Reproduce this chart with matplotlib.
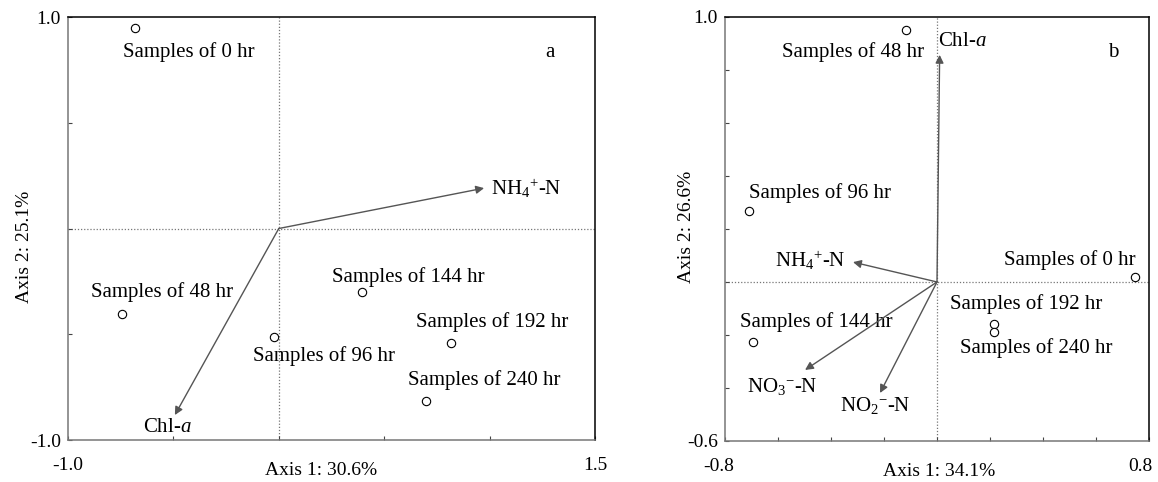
import matplotlib
matplotlib.use("Agg")
import matplotlib.pyplot as plt
from matplotlib.transforms import ScaledTranslation

plt.rcParams['font.family'] = ['Liberation Serif', 'DejaVu Serif']
plt.rcParams['mathtext.fontset'] = 'custom'
plt.rcParams['mathtext.rm'] = 'Liberation Serif'
plt.rcParams['mathtext.it'] = 'Liberation Serif:italic'
plt.rcParams['axes.unicode_minus'] = False

# panel a: sample scores and variable vectors
samples = ['Samples of 0 hr', 'Samples of 48 hr', 'Samples of 96 hr',
           'Samples of 144 hr', 'Samples of 192 hr', 'Samples of 240 hr']
a_x = [-0.683, -0.744, -0.025, 0.397, 0.818, 0.70]
a_y = [0.948, -0.404, -0.513, -0.300, -0.541, -0.816]
a_vars = ['NH$_4$$^{+}$-N', 'Chl-$a$']
a_vx = [0.974, -0.493]
a_vy = [0.191, -0.882]

# panel b
b_x = [0.747, -0.117, -0.709, -0.694, 0.215, 0.215]
b_y = [0.019, 0.951, 0.268, -0.226, -0.160, -0.188]
b_vars = ['Chl-$a$', 'NH$_4$$^{+}$-N', 'NO$_3$$^{\u2212}$-N', 'NO$_2$$^{\u2212}$-N']
b_vx = [0.01, -0.317, -0.498, -0.215]
b_vy = [0.857, 0.075, -0.332, -0.419]

# label offsets in pixels (dx, dy)
a_off = [(54, -24), (40, 22), (50, -19), (46, 15), (41, 21), (58, 21)]
b_off = [(-65, 17), (-53, -22), (71, 18), (63, 20), (32, 20), (42, -16)]
a_voff = [(7, 0, 'left'), (-7, -12, 'center')]
b_voff = [(-2, 13, 'left'), (-7, 2, 'right'), (-23, -17, 'center'), (-5, -12, 'center')]

fig = plt.figure(figsize=(11.58, 4.82), dpi=100)
ax1 = fig.add_axes([0.0587, 0.0871, 0.4551, 0.8776])
ax2 = fig.add_axes([0.6261, 0.0851, 0.3661, 0.8797])

def draw(ax, xs, ys, off, vx, vy, vnames, voff, xlim, ylim, xt, yt, xlab, ylab, letter):
    ax.set_xlim(*xlim)
    ax.set_ylim(*ylim)
    ax.axhline(0, color='#777777', ls=(0, (1, 1.5)), lw=0.9, zorder=1)
    ax.axvline(0, color='#777777', ls=(0, (1, 1.5)), lw=0.9, zorder=1)
    ax.plot(xs, ys, 'o', mfc='white', mec='black', ms=6, mew=0.8, zorder=3)
    for x, y, name, (dx, dy) in zip(xs, ys, samples, off):
        ax.annotate(name, (x, y), xytext=(dx, dy), textcoords='offset pixels',
                    ha='center', va='center', fontsize=15)
    for x, y, name, (dx, dy, ha) in zip(vx, vy, vnames, voff):
        ax.annotate('', xy=(x, y), xytext=(0, 0),
                    arrowprops=dict(arrowstyle='-|>', color='#555555', lw=1.0,
                                    mutation_scale=12, shrinkA=0, shrinkB=0))
        ax.annotate(name, (x, y), xytext=(dx, dy), textcoords='offset pixels',
                    ha=ha, va='center', fontsize=15)
    ax.set_xticks(xt)
    ax.set_yticks(yt)
    ax.set_xticklabels([f'{xt[0]:.1f}'] + [''] * (len(xt) - 2) + [f'{xt[-1]:.1f}'])
    ax.set_yticklabels([f'{yt[0]:.1f}'] + [''] * (len(yt) - 2) + [f'{yt[-1]:.1f}'])
    ax.tick_params(direction='in', length=3, color='#444444', labelsize=14)
    ax.tick_params(axis='x', pad=12)
    ax.tick_params(axis='y', pad=5)
    for s in ['left', 'bottom']:
        ax.spines[s].set_color('#777777')
    for s in ['top', 'right']:
        ax.spines[s].set_color('black')
    for s in ax.spines.values():
        s.set_linewidth(1.1)
    ax.set_xlabel(xlab, fontsize=14, va='center', ha='center')
    ax.set_ylabel(ylab, fontsize=14, va='center', ha='center')
    ax.text(0.915, 0.917, letter, transform=ax.transAxes, fontsize=15,
            ha='center', va='center')

draw(ax1, a_x, a_y, a_off, a_vx, a_vy, a_vars, a_voff, (-1.0, 1.5), (-1.0, 1.0),
     [-1.0, -0.5, 0.0, 0.5, 1.0, 1.5], [-1.0, -0.5, 0.0, 0.5, 1.0],
     'Axis 1: 30.6%', 'Axis 2: 25.1%', 'a')
ax1.xaxis.set_label_coords(0.48, -0.071)
ax1.yaxis.set_label_coords(-0.082, 0.456)

draw(ax2, b_x, b_y, b_off, b_vx, b_vy, b_vars, b_voff, (-0.8, 0.8), (-0.6, 1.0),
     [-0.8, -0.6, -0.4, -0.2, 0.0, 0.2, 0.4, 0.6, 0.8],
     [-0.6, -0.4, -0.2, 0.0, 0.2, 0.4, 0.6, 0.8, 1.0],
     'Axis 1: 34.1%', 'Axis 2: 26.6%', 'b')
ax2.xaxis.set_label_coords(0.505, -0.073)
ax2.yaxis.set_label_coords(-0.09, 0.505)

# end tick labels of panel b sit slightly inside the frame
xl = ax2.get_xticklabels()
xl[0].set_transform(xl[0].get_transform() + ScaledTranslation(-0.06, 0, fig.dpi_scale_trans))
xl[-1].set_transform(xl[-1].get_transform() + ScaledTranslation(-0.09, 0, fig.dpi_scale_trans))

fig.savefig('out.png', dpi=100)
